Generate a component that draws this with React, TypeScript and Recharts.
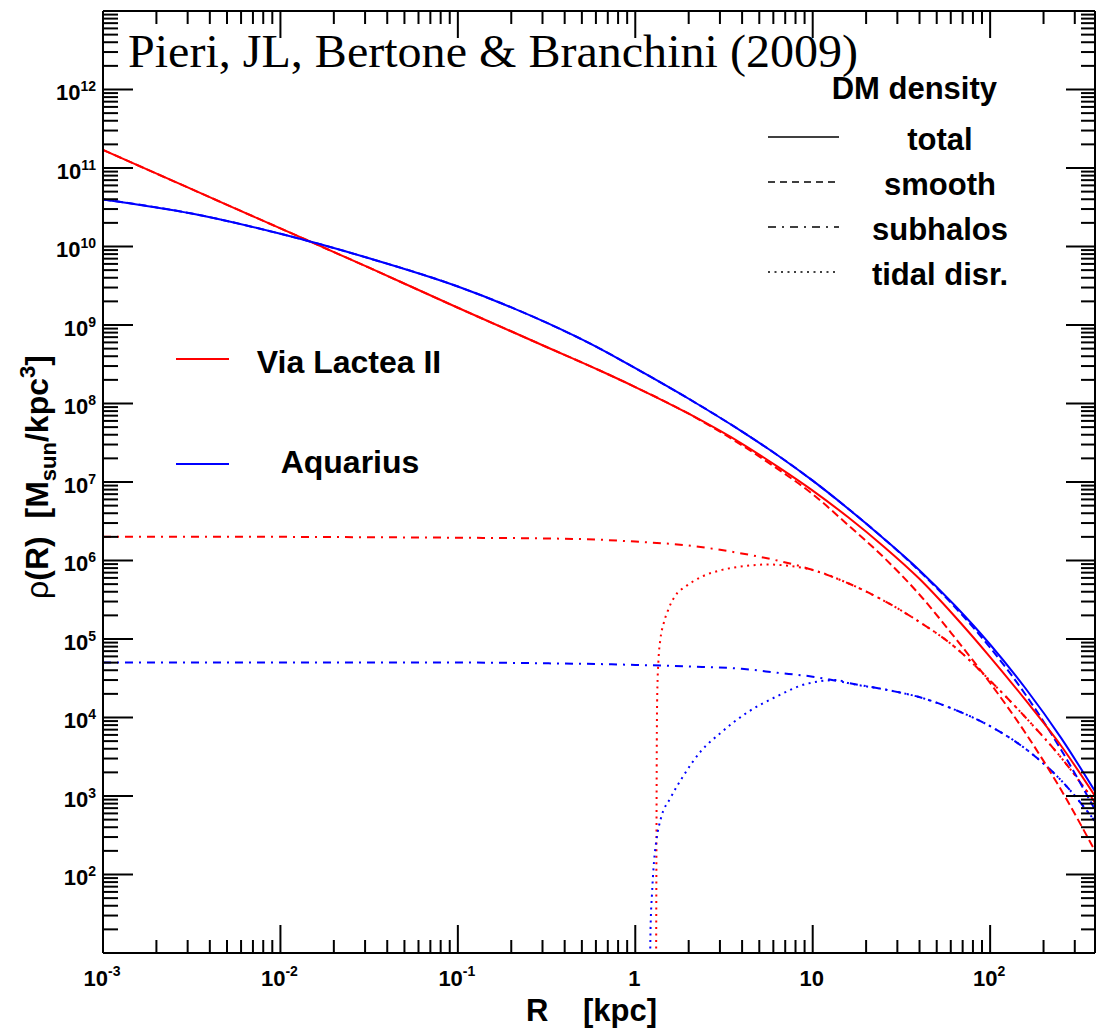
import { LineChart, Line, XAxis, YAxis } from 'recharts'

const RED = '#ff0000'
const BLUE = '#0000ff'
const SANS = "'Liberation Sans', Arial, Helvetica, sans-serif"

// galactocentric radius grid (kpc) for total / smooth / subhalo profiles
const radii = [0.001, 0.00316, 0.01, 0.0316, 0.1, 0.316, 0.631, 1, 2, 3.98, 6.31, 10, 15.85, 25.1, 39.8, 63.1, 100, 158.5, 251, 390]

// Via Lactea II  [M_sun / kpc^3]
const vl2Total = [1.7e11, 5.37e10, 1.7e10, 5.37e9, 1.66e9, 5.25e8, 2.63e8, 1.62e8, 7.41e7, 3.09e7, 1.58e7, 7.76e6, 3.55e6, 1.51e6, 5.89e5, 1.95e5, 5.89e4, 1.66e4, 4370, 1000]
const vl2Smooth = [1.7e11, 5.37e10, 1.7e10, 5.37e9, 1.66e9, 5.25e8, 2.63e8, 1.62e8, 7.41e7, 2.95e7, 1.48e7, 7.0e6, 2.82e6, 1.1e6, 3.72e5, 1.05e5, 2.75e4, 6310, 1200, 200]
const vl2Subhalos = [2.0e6, 2.0e6, 2.0e6, 1.98e6, 1.95e6, 1.91e6, 1.84e6, 1.74e6, 1.55e6, 1.23e6, 1.0e6, 7.59e5, 5.13e5, 3.09e5, 1.66e5, 7.94e4, 2.95e4, 1.0e4, 3090, 832]

// Aquarius
const aqTotal = [3.98e10, 2.63e10, 1.45e10, 7.08e9, 3.09e9, 1.07e9, 5.01e8, 2.82e8, 1.15e8, 4.42e7, 2.21e7, 1.04e7, 4.57e6, 1.91e6, 7.59e5, 2.69e5, 8.51e4, 2.34e4, 5500, 1150]
const aqSmooth = [3.98e10, 2.63e10, 1.45e10, 7.08e9, 3.09e9, 1.07e9, 5.01e8, 2.82e8, 1.15e8, 4.42e7, 2.21e7, 1.04e7, 4.57e6, 1.91e6, 7.41e5, 2.57e5, 7.76e4, 1.95e4, 3890, 670]
const aqSubhalos = [5.01e4, 5.01e4, 5.01e4, 5.01e4, 5.01e4, 4.9e4, 4.79e4, 4.68e4, 4.47e4, 4.17e4, 3.72e4, 3.31e4, 2.75e4, 2.29e4, 1.82e4, 1.26e4, 7760, 3980, 1585, 479]

// subhalos with tidal disruption
const vl2TidalR = [1.309, 1.315, 1.321, 1.33, 1.352, 1.384, 1.445, 1.531, 1.679, 1.928, 2.399, 3.09, 4.17, 5.62, 7.41, 9.55, 15.85, 25.1, 39.8, 63.1, 100, 158.5, 251, 390]
const vl2Tidal = [3, 100, 3160, 2.0e4, 5.5e4, 9.8e4, 1.58e5, 2.34e5, 3.55e5, 4.68e5, 6.31e5, 7.59e5, 8.51e5, 8.91e5, 8.51e5, 7.76e5, 5.13e5, 3.09e5, 1.66e5, 7.94e4, 2.95e4, 1.0e4, 3090, 832]
const aqTidalR = [1.208, 1.219, 1.242, 1.274, 1.318, 1.396, 1.574, 1.871, 2.344, 3.013, 4.256, 6.281, 9.268, 13.68, 15.85, 25.1, 39.8, 63.1, 100, 158.5, 251, 390]
const aqTidal = [3, 20, 56, 141, 282, 525, 933, 1820, 3720, 6310, 1.15e4, 1.86e4, 2.69e4, 3.0e4, 2.75e4, 2.29e4, 1.82e4, 1.26e4, 7760, 3980, 1585, 479]

// axis decades and their labels ([mantissa, exponent])
const xMajor = [0.001, 0.01, 0.1, 1, 10, 100]
const xLabels = [['10', '-3'], ['10', '-2'], ['10', '-1'], ['1', ''], ['10', ''], ['10', '2']]
const yMajor = [1e2, 1e3, 1e4, 1e5, 1e6, 1e7, 1e8, 1e9, 1e10, 1e11, 1e12]
const yLabels = ['2', '3', '4', '5', '6', '7', '8', '9', '10', '11', '12']

const X_DOMAIN = [0.001, 390]
const Y_DOMAIN = [10, 1e13]

const minors = (decades: number[], max: number) =>
  decades.flatMap(d => [2, 3, 4, 5, 6, 7, 8, 9].map(m => m * d)).filter(v => v < max)

const xTicks = [...xMajor, ...minors(xMajor, X_DOMAIN[1])]
const yTicks = [...yMajor, ...minors([10, ...yMajor], Y_DOMAIN[1])]

const pts = (r: number[], v: number[]) => r.map((x, i) => ({ r: x, rho: v[i] }))

const majorIndex = (list: number[], v: number) =>
  list.findIndex(m => Math.abs(m - v) / m < 1e-6)

const tickFont = { fontFamily: SANS, fontWeight: 'bold' as const, fontSize: 22, fill: '#000' }

function LeftTick({ x, y, payload }: any) {
  const i = majorIndex(yMajor, payload.value)
  return (
    <g>
      <line x1={x} x2={x + (i >= 0 ? 30 : 15)} y1={y} y2={y} stroke="#000" strokeWidth={2} />
      {i >= 0 && (
        <text x={x - 7} y={y + 10.5} textAnchor="end" {...tickFont}>
          10<tspan dy={-9} fontSize={14}>{yLabels[i]}</tspan>
        </text>
      )}
    </g>
  )
}

function RightTick({ x, y, payload }: any) {
  const major = majorIndex(yMajor, payload.value) >= 0
  return <line x1={x} x2={x - (major ? 29 : 14)} y1={y} y2={y} stroke="#000" strokeWidth={2} />
}

function BottomTick({ x, y, payload }: any) {
  const i = majorIndex(xMajor, payload.value)
  const [base, exp] = i >= 0 ? xLabels[i] : ['', '']
  return (
    <g>
      <line x1={x} x2={x} y1={y} y2={y - (i >= 0 ? 28 : 13)} stroke="#000" strokeWidth={2} />
      {i >= 0 && (
        <text x={x - 1} y={y + 33} textAnchor="middle" {...tickFont}>
          {base}
          {exp && <tspan dy={-10} fontSize={14}>{exp}</tspan>}
        </text>
      )}
    </g>
  )
}

function TopTick({ x, y, payload }: any) {
  const major = majorIndex(xMajor, payload.value) >= 0
  return <line x1={x} x2={x} y1={y} y2={y + (major ? 27 : 13)} stroke="#000" strokeWidth={2} />
}

const frame = { stroke: '#000', strokeWidth: 2 }

const series = [
  { key: 'vl2Tidal', data: pts(vl2TidalR, vl2Tidal), color: RED, dash: '2 4.5' },
  { key: 'aqTidal', data: pts(aqTidalR, aqTidal), color: BLUE, dash: '2 4.5' },
  { key: 'vl2Sub', data: pts(radii, vl2Subhalos), color: RED, dash: '8 6 2 6' },
  { key: 'aqSub', data: pts(radii, aqSubhalos), color: BLUE, dash: '8 6 2 6' },
  { key: 'vl2Smooth', data: pts(radii, vl2Smooth), color: RED, dash: '8 4' },
  { key: 'aqSmooth', data: pts(radii, aqSmooth), color: BLUE, dash: '8 4' },
  { key: 'vl2Total', data: pts(radii, vl2Total), color: RED, dash: undefined },
  { key: 'aqTotal', data: pts(radii, aqTotal), color: BLUE, dash: undefined },
]

const legendRows = [
  { label: 'total', dash: undefined, y: 137 },
  { label: 'smooth', dash: '7 5', y: 182 },
  { label: 'subhalos', dash: '8 6 2 6', y: 227 },
  { label: 'tidal disr.', dash: '2 4.5', y: 272 },
]

export default function App() {
  return (
    <div style={{ position: 'absolute', left: 0, top: 0, width: 1096, height: 1028, background: '#fff' }}>
      <LineChart width={1096} height={1028} margin={{ top: 10, right: 0, bottom: 74, left: 102 }}>
        <XAxis
          dataKey="r" type="number" scale="log" domain={X_DOMAIN} allowDataOverflow
          ticks={xTicks} interval={0} tick={<BottomTick />} tickLine={false}
          tickSize={0} tickMargin={0} height={1} axisLine={frame}
        />
        <XAxis
          xAxisId="top" orientation="top" dataKey="r" type="number" scale="log" domain={X_DOMAIN}
          allowDataOverflow ticks={xTicks} interval={0} tick={<TopTick />} tickLine={false}
          tickSize={0} tickMargin={0} height={1} axisLine={frame}
        />
        <YAxis
          type="number" scale="log" domain={Y_DOMAIN} allowDataOverflow
          ticks={yTicks} interval={0} tick={<LeftTick />} tickLine={false}
          tickSize={0} tickMargin={0} width={1} axisLine={frame}
        />
        <YAxis
          yAxisId="right" orientation="right" type="number" scale="log" domain={Y_DOMAIN}
          allowDataOverflow ticks={yTicks} interval={0} tick={<RightTick />} tickLine={false}
          tickSize={0} tickMargin={0} width={1} axisLine={frame}
        />
        {series.map(s => (
          <Line
            key={s.key} data={s.data} dataKey="rho" type="monotone"
            stroke={s.color} strokeWidth={2} strokeDasharray={s.dash}
            dot={false} activeDot={false} isAnimationActive={false}
          />
        ))}
      </LineChart>

      <svg width={1096} height={1028} style={{ position: 'absolute', left: 0, top: 0, pointerEvents: 'none' }}>
        <text
          x={128} y={67} fontFamily="'Liberation Serif', 'Times New Roman', serif" fontSize={47}
          textLength={730} lengthAdjust="spacingAndGlyphs"
        >
          Pieri, JL, Bertone &amp; Branchini (2009)
        </text>

        <text x={997} y={99} textAnchor="end" fontFamily={SANS} fontWeight="bold" fontSize={31}>DM density</text>
        {legendRows.map(row => (
          <g key={row.label}>
            <line x1={768} x2={839} y1={row.y} y2={row.y} stroke="#000" strokeWidth={1.5} strokeDasharray={row.dash} />
            <text x={940} y={row.y + 13} textAnchor="middle" fontFamily={SANS} fontWeight="bold" fontSize={31}>
              {row.label}
            </text>
          </g>
        ))}

        <line x1={176} x2={229} y1={359} y2={359} stroke={RED} strokeWidth={2} />
        <text x={349} y={373} textAnchor="middle" fontFamily={SANS} fontWeight="bold" fontSize={32}>Via Lactea II</text>
        <line x1={176} x2={229} y1={464} y2={464} stroke={BLUE} strokeWidth={2} />
        <text x={350} y={473} textAnchor="middle" fontFamily={SANS} fontWeight="bold" fontSize={32}>Aquarius</text>

        <text x={526} y={1021} fontFamily={SANS} fontWeight="bold" fontSize={31}>R</text>
        <text x={657} y={1021} textAnchor="end" fontFamily={SANS} fontWeight="bold" fontSize={31}>[kpc]</text>

        <text transform="translate(48,477) rotate(-90)" textAnchor="middle" fontFamily={SANS} fontWeight="bold" fontSize={32}>
          <tspan fontWeight="normal">ρ</tspan>
          {'(R)\u00a0\u00a0[M'}
          <tspan dy={8} fontSize={22}>sun</tspan>
          <tspan dy={-8}>/kpc</tspan>
          <tspan dy={-13} fontSize={22}>3</tspan>
          <tspan dy={13}>]</tspan>
        </text>
      </svg>
    </div>
  )
}
